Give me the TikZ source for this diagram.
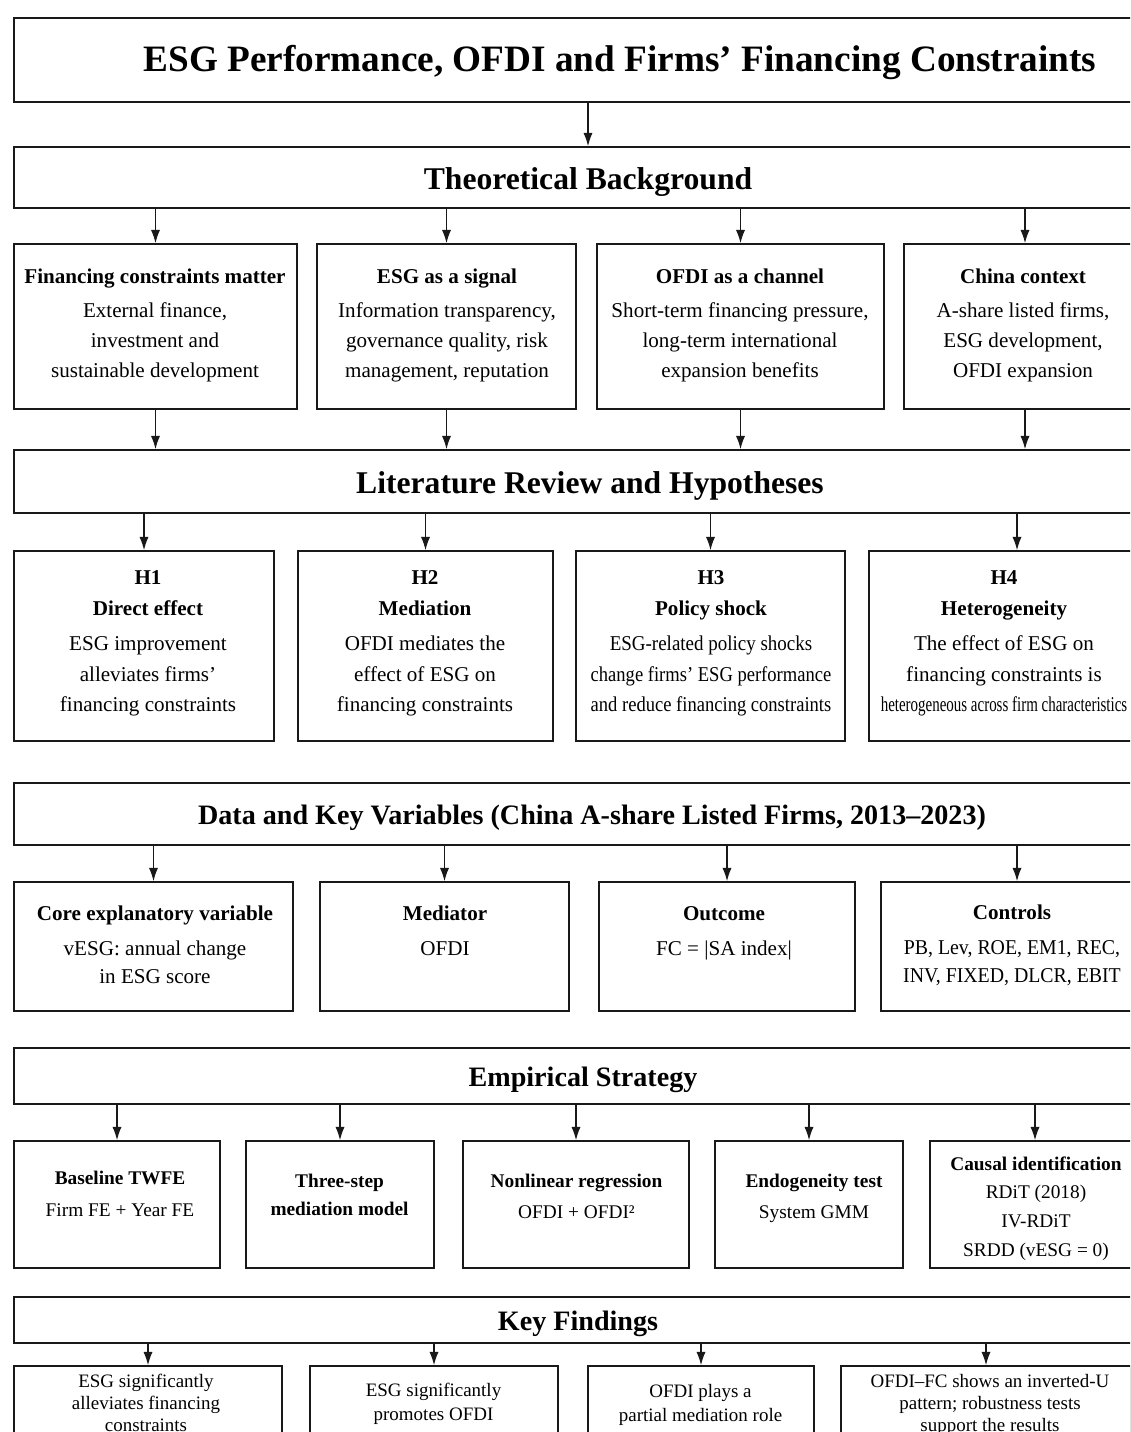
\documentclass[tikz,border=0pt]{standalone}
\usepackage{fontspec}
\setmainfont{Liberation Serif}
\usepackage{graphicx}
\usetikzlibrary{arrows.meta}

\tikzset{
  frame/.style={draw=black!90, line width=1pt, inner sep=0pt},
  head/.style={frame, font=\fontsize{18}{21}\selectfont\bfseries, text height=13.5pt, text depth=0pt},
  cell/.style={align=center, inner sep=0pt, font=\fontsize{12}{17}\selectfont},
  smallcell/.style={align=center, inner sep=0pt, font=\fontsize{11}{16}\selectfont},
  tinycell/.style={align=center, inner sep=0pt, font=\fontsize{10.8}{12.5}\selectfont},
  link/.style={-{Latex[length=7.5pt,width=5.2pt]}, line width=0.7pt, black!90},
}

\begin{document}
\begin{tikzpicture}[x=0.02cm, y=-0.02cm]
\useasboundingbox (0,0) rectangle (1130,1432);
\fill[white] (0,0) rectangle (1130,1432);
\clip (0,0) rectangle (1130,1432);

% TITLE
\node[frame, minimum width=24.24cm, minimum height=1.68cm,
  font=\fontsize{21.2}{25}\selectfont\bfseries, text height=13.3pt, text depth=0pt] (title) at (620,60)
  {ESG Performance, OFDI and Firms’ Financing Constraints};

% THEORETICAL BACKGROUND
\node[head, minimum width=22.96cm, minimum height=1.22cm] (tb) at (588,177.5) {Theoretical Background};

\node[frame, minimum width=5.66cm, minimum height=3.30cm] (bg1) at (155.5,326.5) {};
\node[cell] (bg1t) at (155,325.5) {\textbf{Financing constraints matter}\\[2.3pt]
  External finance,\\ investment and\\ sustainable development};

\node[frame, minimum width=5.18cm, minimum height=3.30cm] (bg2) at (446.5,326.5) {};
\node[cell] (bg2t) at (447,325.5) {\textbf{ESG as a signal}\\[2.3pt]
  Information transparency,\\ governance quality, risk\\ management, reputation};

\node[frame, minimum width=5.74cm, minimum height=3.30cm] (bg3) at (740.5,326.5) {};
\node[cell] (bg3t) at (740,325.5) {\textbf{OFDI as a channel}\\[2.3pt]
  Short-term financing pressure,\\ long-term international\\ expansion benefits};

\node[frame, minimum width=4.84cm, minimum height=3.30cm] (bg4) at (1025,326.5) {};
\node[cell] (bg4t) at (1023,325.5) {\textbf{China context}\\[2.3pt]
  A-share listed firms,\\ ESG development,\\ OFDI expansion};

% LITERATURE REVIEW
\node[head, minimum width=23.04cm, minimum height=1.26cm] (lit) at (590,481.5) {Literature Review and Hypotheses};

\node[frame, minimum width=5.20cm, minimum height=3.80cm] (hy1) at (144,646) {};
\node[cell, font=\fontsize{12}{17.3}\selectfont] (hy1t) at (148,643.5) {\textbf{H1}\\ \textbf{Direct effect}\\[2.8pt]
  ESG improvement\\ alleviates firms’\\ financing constraints};

\node[frame, minimum width=5.10cm, minimum height=3.80cm] (hy2) at (425.5,646) {};
\node[cell, font=\fontsize{12}{17.3}\selectfont] (hy2t) at (425,643.5) {\textbf{H2}\\ \textbf{Mediation}\\[2.8pt]
  OFDI mediates the\\ effect of ESG on\\ financing constraints};

\node[frame, minimum width=5.38cm, minimum height=3.80cm] (hy3) at (710.5,646) {};
\node[cell, font=\fontsize{12}{17.3}\selectfont] (hy3t) at (711,643.5) {\textbf{H3}\\ \textbf{Policy shock}\\[2.8pt]
  \scalebox{0.9}[1]{ESG-related policy shocks}\\
  \scalebox{0.88}[1]{change firms’ ESG performance}\\
  \scalebox{0.88}[1]{and reduce financing constraints}};

\node[frame, minimum width=5.92cm, minimum height=3.80cm] (hy4) at (1017,646) {};
\node[cell, font=\fontsize{12}{17.3}\selectfont] (hy4t) at (1004,643.5) {\textbf{H4}\\ \textbf{Heterogeneity}\\[2.8pt]
  The effect of ESG on\\ financing constraints is\\
  \scalebox{0.71}[1]{heterogeneous across firm characteristics}};

% DATA
\node[head, minimum width=23.12cm, minimum height=1.24cm,
  font=\fontsize{16}{19}\selectfont\bfseries, text height=12.2pt] (data) at (592,814)
  {Data and Key Variables (China A-share Listed Firms, 2013–2023)};

\node[frame, minimum width=5.58cm, minimum height=2.58cm] (var1) at (153.5,946.5) {};
\node[cell, font=\fontsize{12}{16}\selectfont] (var1t) at (155,944.5) {\textbf{Core explanatory variable}\\[3.9pt]
  vESG: annual change\\ in ESG score};

\node[frame, minimum width=4.98cm, minimum height=2.58cm] (var2) at (444.5,946.5) {};
\node[cell, font=\fontsize{12}{16}\selectfont] (var2t) at (445,930.5) {\textbf{Mediator}\\[3.9pt] OFDI};

\node[frame, minimum width=5.12cm, minimum height=2.58cm] (var3) at (727,946.5) {};
\node[cell, font=\fontsize{12}{16}\selectfont] (var3t) at (724,933.5) {\textbf{Outcome}\\[3.9pt] FC = |SA index|};

\node[frame, minimum width=5.44cm, minimum height=2.58cm] (var4) at (1017,946.5) {};
\node[cell, font=\fontsize{12}{16}\selectfont] (var4t) at (1012,945.5) {\textbf{Controls}\\[3.9pt]
  \scalebox{0.94}[1]{PB, Lev, ROE, EM1, REC,}\\ \scalebox{0.94}[1]{INV, FIXED, DLCR, EBIT}};

% EMPIRICAL STRATEGY
\node[head, minimum width=22.76cm, minimum height=1.12cm,
  font=\fontsize{16}{19}\selectfont\bfseries, text height=12.2pt] (emp) at (583,1076) {Empirical Strategy};

\node[frame, minimum width=4.12cm, minimum height=2.54cm] (st1) at (117,1204.5) {};
\node[smallcell] (st1t) at (120,1194) {\textbf{Baseline TWFE}\\[2pt] Firm FE + Year FE};

\node[frame, minimum width=3.76cm, minimum height=2.54cm] (st2) at (340,1204.5) {};
\node[smallcell] (st2t) at (339.5,1194.5) {\textbf{Three-step}\\ \textbf{mediation model}};

\node[frame, minimum width=4.52cm, minimum height=2.54cm] (st3) at (576,1204.5) {};
\node[smallcell] (st3t) at (576.5,1196.5) {\textbf{Nonlinear regression}\\[2pt] OFDI + OFDI²};

\node[frame, minimum width=3.76cm, minimum height=2.54cm] (st4) at (809,1204.5) {};
\node[smallcell] (st4t) at (814,1198.5) {\textbf{Endogeneity test}\\[2pt] System GMM};

\node[frame, minimum width=4.20cm, minimum height=2.54cm] (st5) at (1035,1204.5) {};
\node[smallcell, font=\fontsize{11}{16.4}\selectfont] (st5t) at (1036,1208.5) {\textbf{Causal identification}\\
  RDiT (2018)\\ IV-RDiT\\ SRDD (vESG = 0)};

% KEY FINDINGS
\node[head, minimum width=22.56cm, minimum height=0.92cm,
  font=\fontsize{16}{19}\selectfont\bfseries, text height=12.2pt] (key) at (578,1320) {Key Findings};

\node[frame, minimum width=5.36cm, minimum height=1.88cm] (kf1) at (148,1413) {};
\node[tinycell] (kf1t) at (146,1402.5) {ESG significantly\\ alleviates financing\\ constraints};

\node[frame, minimum width=4.96cm, minimum height=1.88cm] (kf2) at (434,1413) {};
\node[tinycell, font=\fontsize{10.8}{13.6}\selectfont] (kf2t) at (433.5,1404) {ESG significantly\\ promotes OFDI};

\node[frame, minimum width=4.52cm, minimum height=1.88cm] (kf3) at (701,1413) {};
\node[tinycell, font=\fontsize{10.8}{13.6}\selectfont] (kf3t) at (700.5,1405) {OFDI plays a\\ partial mediation role};

\node[frame, minimum width=5.80cm, minimum height=1.88cm] (kf4) at (986,1413) {};
\node[tinycell] (kf4t) at (990,1405) {OFDI–FC shows an inverted-U\\ pattern; robustness tests\\ support the results};

% ARROWS
\draw[link] (title.south -| tb.north) -- (tb.north);

\foreach \b in {bg1,bg2,bg3,bg4}{
  \draw[link] (tb.south -| \b.north) -- (\b.north);
  \draw[link] (\b.south) -- (lit.north -| \b.south);
}
\foreach \b in {hy1,hy2,hy3,hy4}
  \draw[link] (lit.south -| \b.north) -- (\b.north);
\foreach \b in {var1,var2,var3,var4}
  \draw[link] (data.south -| \b.north) -- (\b.north);
\foreach \b in {st1,st2,st3,st4,st5}
  \draw[link] (emp.south -| \b.north) -- (\b.north);
\foreach \b in {kf1,kf2,kf3,kf4}
  \draw[link] (key.south -| \b.north) -- (\b.north);

\end{tikzpicture}
\end{document}
